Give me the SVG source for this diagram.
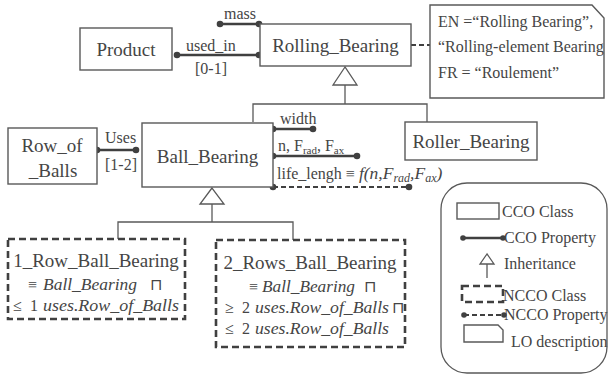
<svg xmlns="http://www.w3.org/2000/svg" width="611" height="376" viewBox="0 0 611 376">
<style>
text{font-family:"Liberation Serif","Times New Roman",serif;fill:#454545}
.lbl{font-size:19px}
.sm{font-size:16px}
.box{fill:#fff;stroke:#595959;stroke-width:1.4}
.dbox{fill:#fff;stroke:#404040;stroke-width:2.6;stroke-dasharray:7 4}
.prop{stroke:#404040;stroke-width:2.6;fill:none}
.dprop{stroke:#404040;stroke-width:2.2;fill:none;stroke-dasharray:5 3}
.inh{stroke:#595959;stroke-width:1.3;fill:none}
.tri{fill:#fff;stroke:#595959;stroke-width:1.3}
.dot{fill:#404040}
.it{font-style:italic}
.m{font-size:17.5px;font-style:italic}
</style>
<g id="connectors">
  <line class="prop" x1="220" y1="24" x2="260" y2="24"/>
  <circle class="dot" cx="220" cy="24" r="3.3"/><circle class="dot" cx="259" cy="24" r="3.3"/>
  <line class="prop" x1="177" y1="55" x2="260" y2="55"/>
  <circle class="dot" cx="177" cy="55" r="3.3"/><circle class="dot" cx="259" cy="55" r="3.3"/>
  <line class="dprop" x1="411" y1="45" x2="430" y2="45"/>
  <polygon class="tri" points="345,67 333,85 357,85"/>
  <polyline class="inh" points="345,85 345,104"/>
  <polyline class="inh" points="253,122 253,104 427,104 427,122"/>
  <line class="prop" x1="97" y1="150" x2="136" y2="150"/>
  <circle class="dot" cx="97" cy="150" r="3.3"/><circle class="dot" cx="136" cy="150" r="3.3"/>
  <line class="prop" x1="273" y1="129" x2="313" y2="129"/>
  <circle class="dot" cx="273" cy="129" r="3.3"/><circle class="dot" cx="313" cy="129" r="3.3"/>
  <line class="prop" x1="273" y1="156" x2="357" y2="156"/>
  <circle class="dot" cx="273" cy="156" r="3.3"/><circle class="dot" cx="357" cy="156" r="3.3"/>
  <line class="dprop" x1="273" y1="187" x2="409" y2="187"/>
  <circle class="dot" cx="273" cy="187" r="3.3"/><circle class="dot" cx="409" cy="187" r="3.3"/>
  <polygon class="tri" points="212,188 200,204 224,204"/>
  <polyline class="inh" points="212,204 212,222"/>
  <polyline class="inh" points="118,239 118,222 293,222 293,240"/>
  <text class="sm" x="224" y="19">mass</text>
  <text class="sm" x="186" y="51">used_in</text>
  <text class="sm" x="195" y="74">[0-1]</text>
  <text class="sm" x="105" y="143">Uses</text>
  <text class="sm" x="105" y="170">[1-2]</text>
  <text class="sm" x="280" y="124">width</text>
  <text class="sm" x="278" y="151">n, F<tspan font-size="11" dy="3">rad</tspan><tspan dy="-3">, F</tspan><tspan font-size="11" dy="3">ax</tspan></text>
  <text class="sm" x="277" y="179">life_lengh ≡ <tspan class="it" font-size="17.5">f(n,F</tspan><tspan class="it" font-size="12" dy="3">rad</tspan><tspan class="it" font-size="17.5" dy="-3">,F</tspan><tspan class="it" font-size="12" dy="3">ax</tspan><tspan class="it" font-size="17.5" dy="-3">)</tspan></text>
</g>
<g id="Product">
  <rect class="box" x="80" y="28" width="92" height="42"/>
  <text class="lbl" x="126" y="56" text-anchor="middle">Product</text>
</g>
<g id="Rolling_Bearing">
  <rect class="box" x="260" y="24" width="151" height="42"/>
  <text class="lbl" x="335.5" y="52" text-anchor="middle">Rolling_Bearing</text>
</g>
<g id="LO_description">
  <path class="box" d="M430,5 H592 L604,18 V98 H430 Z"/>
  <text class="sm" x="438" y="27">EN =“Rolling Bearing”,</text>
  <text class="sm" x="438" y="52">“Rolling-element Bearing</text>
  <text class="sm" x="438" y="78">FR = “Roulement”</text>
</g>
<g id="Ball_Bearing">
  <rect class="box" x="142" y="123" width="131" height="64"/>
  <text class="lbl" x="207.5" y="163" text-anchor="middle">Ball_Bearing</text>
</g>
<g id="Roller_Bearing">
  <rect class="box" x="405" y="122" width="132" height="38"/>
  <text class="lbl" x="471" y="148" text-anchor="middle">Roller_Bearing</text>
</g>
<g id="Row_of_Balls">
  <rect class="box" x="8" y="128" width="89" height="56"/>
  <text class="lbl" x="52" y="152" text-anchor="middle">Row_of</text>
  <text class="lbl" x="53" y="177" text-anchor="middle">_Balls</text>
</g>
<g id="One_Row_Ball_Bearing">
  <rect class="dbox" x="8" y="239" width="177" height="80"/>
  <text class="lbl" x="96" y="267" text-anchor="middle">1_Row_Ball_Bearing</text>
  <text class="sm" x="28" y="290">≡</text>
  <text class="m" x="43" y="290" textLength="94" lengthAdjust="spacingAndGlyphs">Ball_Bearing</text>
  <text class="sm" x="150" y="290">⊓</text>
  <text class="sm" x="13" y="311">≤</text>
  <text class="sm" x="30" y="311">1</text>
  <text class="m" x="43" y="311" textLength="136" lengthAdjust="spacingAndGlyphs">uses.Row_of_Balls</text>
</g>
<g id="Two_Rows_Ball_Bearing">
  <rect class="dbox" x="216" y="240" width="189" height="107"/>
  <text class="lbl" x="310" y="269" text-anchor="middle">2_Rows_Ball_Bearing</text>
  <text class="sm" x="249" y="292">≡</text>
  <text class="m" x="262" y="292" textLength="93" lengthAdjust="spacingAndGlyphs">Ball_Bearing</text>
  <text class="sm" x="364" y="292">⊓</text>
  <text class="sm" x="225" y="313">≥</text>
  <text class="sm" x="242" y="313">2</text>
  <text class="m" x="255" y="313" textLength="134" lengthAdjust="spacingAndGlyphs">uses.Row_of_Balls</text>
  <text class="sm" x="392" y="313">⊓</text>
  <text class="sm" x="225" y="334">≤</text>
  <text class="sm" x="242" y="334">2</text>
  <text class="m" x="255" y="334" textLength="134" lengthAdjust="spacingAndGlyphs">uses.Row_of_Balls</text>
</g>
<g id="legend">
  <rect x="441" y="183" width="166" height="190" rx="26" fill="#fff" stroke="#595959" stroke-width="1.3"/>
  <rect class="box" x="457" y="203" width="42" height="16"/>
  <text class="sm" x="502" y="217">CCO Class</text>
  <line class="prop" x1="463" y1="238" x2="503" y2="238" stroke-width="2"/>
  <circle class="dot" cx="463" cy="238" r="2.8"/><circle class="dot" cx="503" cy="238" r="2.8"/>
  <text class="sm" x="504" y="243">CCO Property</text>
  <polygon class="tri" points="487,254 480,264 494,264"/>
  <line class="inh" x1="487" y1="264" x2="487" y2="278"/>
  <text class="sm" x="504" y="269">Inheritance</text>
  <rect class="dbox" x="462" y="286" width="41" height="16" stroke-width="2.2" stroke-dasharray="5 3"/>
  <text class="sm" x="503" y="301">NCCO Class</text>
  <line class="dprop" x1="464" y1="315" x2="504" y2="315" stroke-width="1.8" stroke-dasharray="4 2.5"/>
  <circle class="dot" cx="464" cy="315" r="2.8"/><circle class="dot" cx="504" cy="315" r="2.8"/>
  <text class="sm" x="504" y="320">NCCO Property</text>
  <path class="box" d="M464,325 H498 L503,330 V342 H464 Z"/>
  <text class="sm" x="511" y="347">LO description</text>
</g>
</svg>
